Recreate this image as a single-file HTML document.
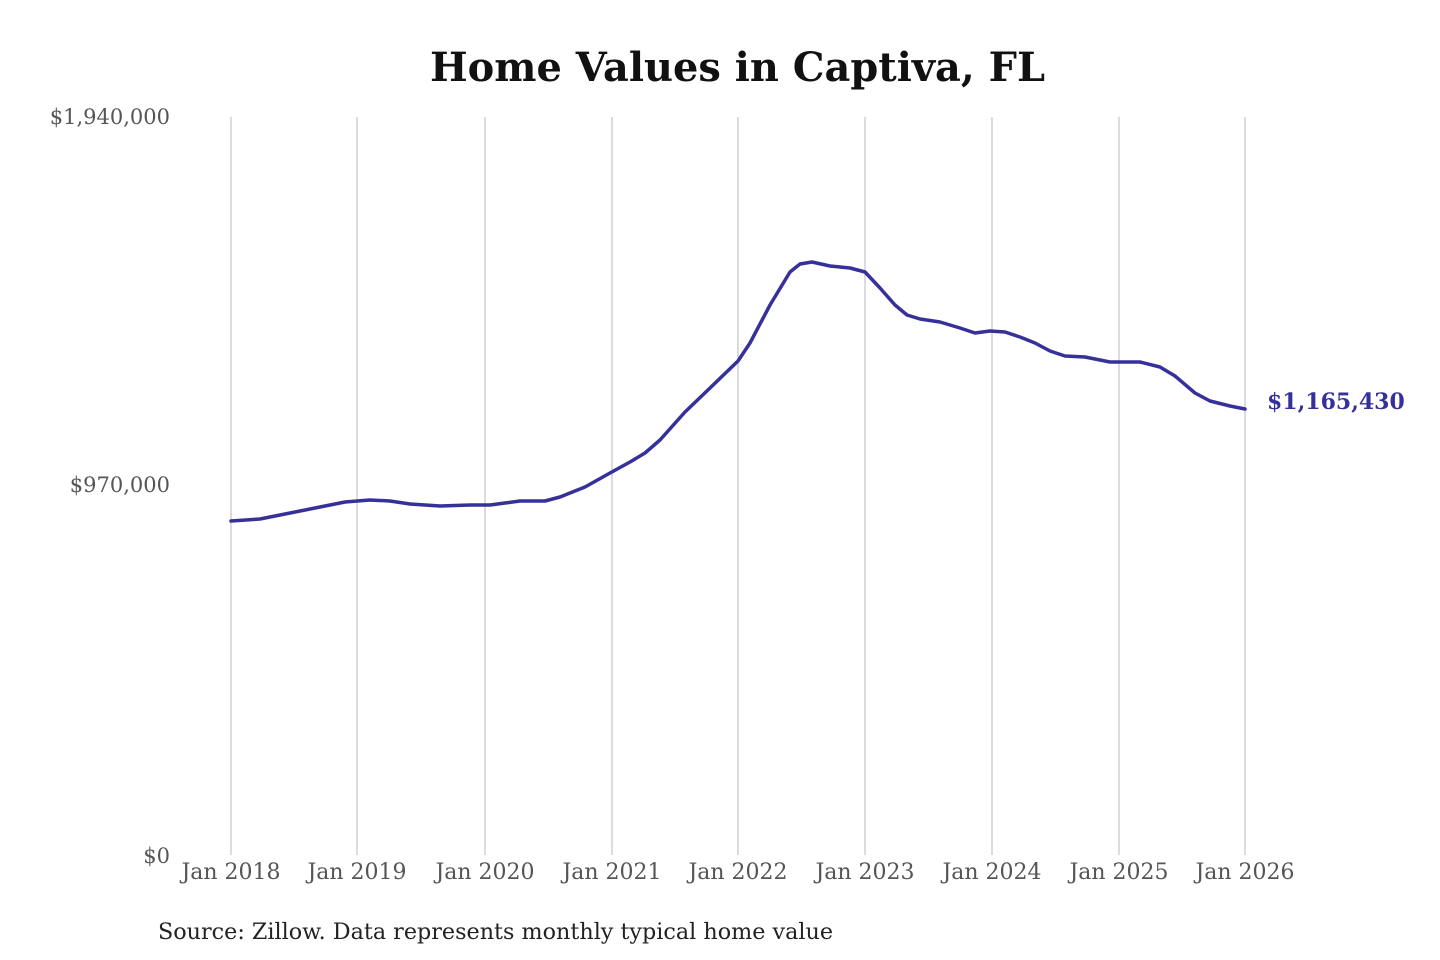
<!DOCTYPE html>
<html><head><meta charset="utf-8"><style>
body{margin:0;background:#fff;}
svg{display:block;}
</style></head><body>
<svg width="1440" height="960" xmlns="http://www.w3.org/2000/svg" font-family="'DejaVu Serif','Liberation Serif',serif">
<rect width="1440" height="960" fill="#fff"/>
<text x="430" y="81" font-size="40" font-weight="bold" fill="#111" textLength="615" lengthAdjust="spacingAndGlyphs">Home Values in Captiva, FL</text>
<g stroke="#c8c8c8" stroke-width="1.3">
<line x1="231" y1="117" x2="231" y2="855"/>
<line x1="357" y1="117" x2="357" y2="855"/>
<line x1="485" y1="117" x2="485" y2="855"/>
<line x1="612" y1="117" x2="612" y2="855"/>
<line x1="738" y1="117" x2="738" y2="855"/>
<line x1="865" y1="117" x2="865" y2="855"/>
<line x1="992" y1="117" x2="992" y2="855"/>
<line x1="1119" y1="117" x2="1119" y2="855"/>
<line x1="1245" y1="117" x2="1245" y2="855"/>
</g>
<g font-size="21" fill="#555" text-anchor="end">
<text x="170" y="124">$1,940,000</text>
<text x="170" y="492">$970,000</text>
<text x="170" y="863">$0</text>
</g>
<g font-size="22" fill="#555" text-anchor="middle">
<text x="231" y="879">Jan 2018</text>
<text x="357" y="879">Jan 2019</text>
<text x="485" y="879">Jan 2020</text>
<text x="612" y="879">Jan 2021</text>
<text x="738" y="879">Jan 2022</text>
<text x="865" y="879">Jan 2023</text>
<text x="992" y="879">Jan 2024</text>
<text x="1119" y="879">Jan 2025</text>
<text x="1245" y="879">Jan 2026</text>
</g>
<polyline fill="none" stroke="#36309a" stroke-width="3.5" stroke-linejoin="round" stroke-linecap="round" points="231,521 260,519 290,513 320,507 345,502 370,500 390,501 410,504 440,506 470,505 490,505 505,503 520,501 545,501 560,497 585,487 610,473 630,462 645,453 660,440 685,412 710,388 738,361 750,343 770,305 790,272 800,264 812,262 830,266 850,268 865,272 880,288 895,305 907,315 920,319 940,322 960,328 975,333 990,331 1005,332 1020,337 1035,343 1050,351 1065,356 1085,357 1110,362 1140,362 1160,367 1175,376 1195,393 1210,401 1230,406 1245,409"/>
<text x="1267" y="409" font-size="22" font-weight="bold" fill="#36309a">$1,165,430</text>
<text x="158" y="939" font-size="22" fill="#222" textLength="675" lengthAdjust="spacingAndGlyphs">Source: Zillow. Data represents monthly typical home value</text>
</svg>
</body></html>
